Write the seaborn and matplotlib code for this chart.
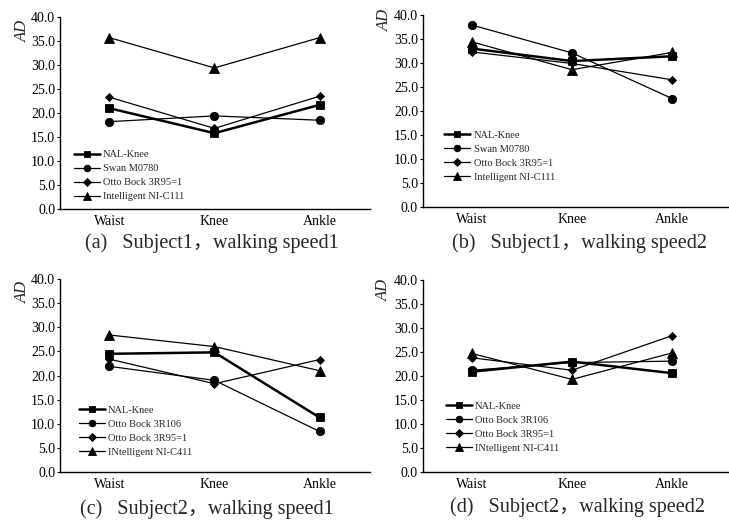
import matplotlib
matplotlib.use("Agg")
import matplotlib.pyplot as plt
import seaborn as sns
import pandas as pd

sns.set_style("white")
plt.rcParams['font.family'] = ['Liberation Serif', 'Noto Sans CJK SC', 'DejaVu Sans']
plt.rcParams['axes.unicode_minus'] = False

positions = ["Waist", "Knee", "Ankle"]

# Subject 1
s1_labels = ["NAL-Knee", "Swan M0780", "Otto Bock 3R95=1", "Intelligent NI-C111"]
a_nal = [21.0, 15.8, 21.7]
a_swan = [18.2, 19.4, 18.5]
a_otto = [23.3, 16.8, 23.5]
a_intel = [35.7, 29.4, 35.7]

b_nal = [33.0, 30.4, 31.4]
b_swan = [37.9, 32.1, 22.6]
b_otto = [32.3, 29.9, 26.5]
b_intel = [34.4, 28.6, 32.2]

# Subject 2
s2_labels = ["NAL-Knee", "Otto Bock 3R106", "Otto Bock 3R95=1", "INtelligent NI-C411"]
c_nal = [24.5, 24.8, 11.3]
c_3r106 = [21.9, 19.0, 8.4]
c_3r95 = [23.4, 18.3, 23.3]
c_intel = [28.4, 26.0, 21.0]

d_nal = [20.9, 23.0, 20.6]
d_3r106 = [21.2, 22.8, 23.1]
d_3r95 = [23.8, 21.2, 28.4]
d_intel = [24.7, 19.3, 24.8]

captions = ["(a)   Subject1，walking speed1", "(b)   Subject1，walking speed2",
            "(c)   Subject2，walking speed1", "(d)   Subject2，walking speed2"]

markers = ["s", "o", "D", "^"]
msizes = [6, 6, 4.5, 6.5]
lwidths = [1.8, 0.9, 0.9, 0.9]

panels = [
    dict(series=[a_nal, a_swan, a_otto, a_intel], labels=s1_labels,
         rect=[0.0823, 0.6011, 0.4252, 0.3664], xlim=(-0.47, 2.48),
         leg=(0.045, 0.04), ad=(-0.12, 0.925), cap=(212 / 729, 0.536)),
    dict(series=[b_nal, b_swan, b_otto, b_intel], labels=s1_labels,
         rect=[0.5802, 0.6050, 0.4198, 0.3664], xlim=(-0.49, 2.57),
         leg=(0.07, 0.13), ad=(-0.125, 0.975), cap=(579 / 729, 0.536)),
    dict(series=[c_nal, c_3r106, c_3r95, c_intel], labels=s2_labels,
         rect=[0.0823, 0.0992, 0.4252, 0.3683], xlim=(-0.47, 2.48),
         leg=(0.06, 0.08), ad=(-0.12, 0.935), cap=(207 / 729, 0.029)),
    dict(series=[d_nal, d_3r106, d_3r95, d_intel], labels=s2_labels,
         rect=[0.5802, 0.0992, 0.4198, 0.3664], xlim=(-0.49, 2.57),
         leg=(0.075, 0.10), ad=(-0.127, 0.95), cap=(578 / 729, 0.032)),
]

fig = plt.figure(figsize=(7.29, 5.24), dpi=100)

for i, p in enumerate(panels):
    ax = fig.add_axes(p["rect"])
    for vals, lab, mk, ms, lw in zip(p["series"], p["labels"], markers, msizes, lwidths):
        df = pd.DataFrame({"pos": positions, "AD": vals})
        sns.lineplot(data=df, x="pos", y="AD", ax=ax, sort=False, color="black",
                     marker=mk, markersize=ms, linewidth=lw, markeredgecolor="black",
                     markeredgewidth=0.6, label=lab, legend=False)
    ax.set_xlim(*p["xlim"])
    ax.set_ylim(0, 40)
    ax.set_yticks([0, 5, 10, 15, 20, 25, 30, 35, 40])
    ax.set_yticklabels([f"{v:.1f}" for v in range(0, 41, 5)], fontsize=10)
    ax.set_xticks([0, 1, 2])
    ax.set_xticklabels(positions, fontsize=10)
    ax.set_xlabel("")
    ax.set_ylabel("")
    for side in ["top", "right"]:
        ax.spines[side].set_visible(False)
    for side in ["left", "bottom"]:
        ax.spines[side].set_color("black")
        ax.spines[side].set_linewidth(1.0)
    ax.tick_params(axis="y", direction="out", length=2.5, width=0.8, pad=1,
                   colors="black", left=True)
    ax.tick_params(axis="x", length=0, pad=4, colors="black")
    ax.text(p["ad"][0], p["ad"][1], "AD", transform=ax.transAxes, rotation=90,
            ha="center", va="center", fontsize=12, style="italic")
    handles, labels = ax.get_legend_handles_labels()
    ax.legend(handles, labels, loc="lower left", bbox_to_anchor=p["leg"],
              frameon=False, fontsize=7.5, handlelength=2.5, handletextpad=0.3,
              labelspacing=0.45, borderaxespad=0, borderpad=0, markerscale=0.8)
    fig.text(p["cap"][0], p["cap"][1], captions[i], ha="center", va="center",
             fontsize=14.5)

fig.savefig("out.png", dpi=100)
